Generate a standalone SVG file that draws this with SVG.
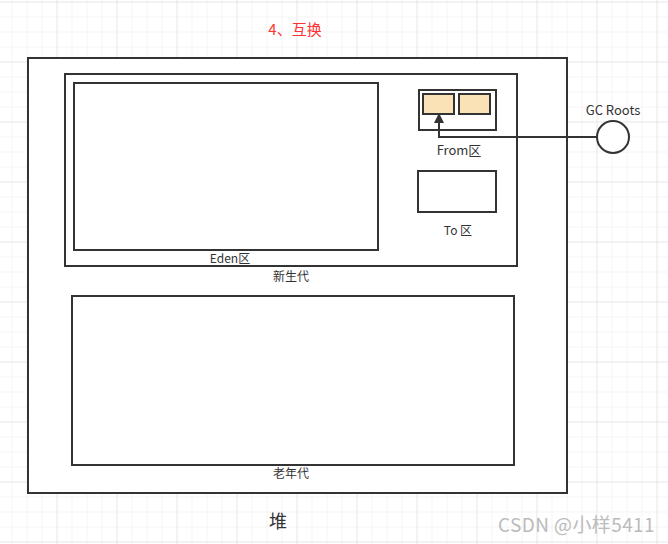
<svg xmlns="http://www.w3.org/2000/svg" width="668" height="544" viewBox="0 0 668 544">
<defs>
<pattern id="minor" x="11.5" y="1.5" width="15" height="15" patternUnits="userSpaceOnUse">
<path d="M0 0V15M0 0H15" fill="none" stroke="#ebebeb" stroke-width="1"/>
</pattern>
<pattern id="major" x="56.5" y="61.5" width="60" height="60" patternUnits="userSpaceOnUse">
<path d="M0 0V60M0 0H60" fill="none" stroke="#dedede" stroke-width="1"/>
</pattern>
<marker id="arr" viewBox="0 0 10 10" refX="9" refY="5" markerWidth="11" markerHeight="10" orient="auto" markerUnits="userSpaceOnUse">
<path d="M0 0L10 5L0 10Z" fill="#333"/>
</marker>
<style>
.box{fill:#fff;stroke:#333;stroke-width:2}
.cell{fill:#fbe1b6;stroke:#333;stroke-width:2}
.t{font-family:"Noto Sans CJK SC","Noto Sans",sans-serif;font-size:12px;fill:#333;text-anchor:middle}
</style>
</defs>
<rect width="668" height="544" fill="#fff"/>
<rect width="668" height="544" fill="url(#minor)"/>
<rect width="668" height="544" fill="url(#major)"/>
<text x="295" y="35" style="font-family:'Noto Sans CJK SC',sans-serif;font-size:15px;fill:#ff3333;text-anchor:middle">4、互换</text>
<g id="heap">
<rect class="box" x="28" y="58" width="539" height="435"/>
<text class="t" x="278" y="528" style="font-size:18px">堆</text>
</g>
<g id="young">
<rect class="box" x="65" y="74" width="452" height="192"/>
<text class="t" x="291" y="281">新生代</text>
</g>
<g id="eden">
<rect class="box" x="74" y="83" width="304" height="167"/>
<text class="t" x="230" y="263">Eden区</text>
</g>
<g id="from">
<rect class="box" x="419" y="90" width="77" height="40"/>
<rect class="cell" x="423" y="94" width="31" height="20"/>
<rect class="cell" x="459" y="94" width="31" height="20"/>
<text class="t" x="459" y="155" style="font-size:13px">From区</text>
</g>
<g id="to">
<rect class="box" x="418" y="171" width="78" height="41"/>
<text class="t" x="458" y="235">To 区</text>
</g>
<g id="old">
<rect class="box" x="72" y="296" width="442" height="169"/>
<text class="t" x="291" y="478">老年代</text>
</g>
<g id="gcroots">
<circle cx="613" cy="137" r="16" fill="#fff" stroke="#333" stroke-width="2"/>
<text class="t" x="613" y="115" style="font-size:13px">GC Roots</text>
</g>
<g id="connectors">
<path d="M597 137H439V114" fill="none" stroke="#333" stroke-width="2" marker-end="url(#arr)"/>
</g>
<text x="655" y="532" style="font-family:'Noto Sans CJK SC',sans-serif;font-size:19px;fill:#bbb;text-anchor:end;letter-spacing:0.4px">CSDN @小样5411</text>
</svg>
